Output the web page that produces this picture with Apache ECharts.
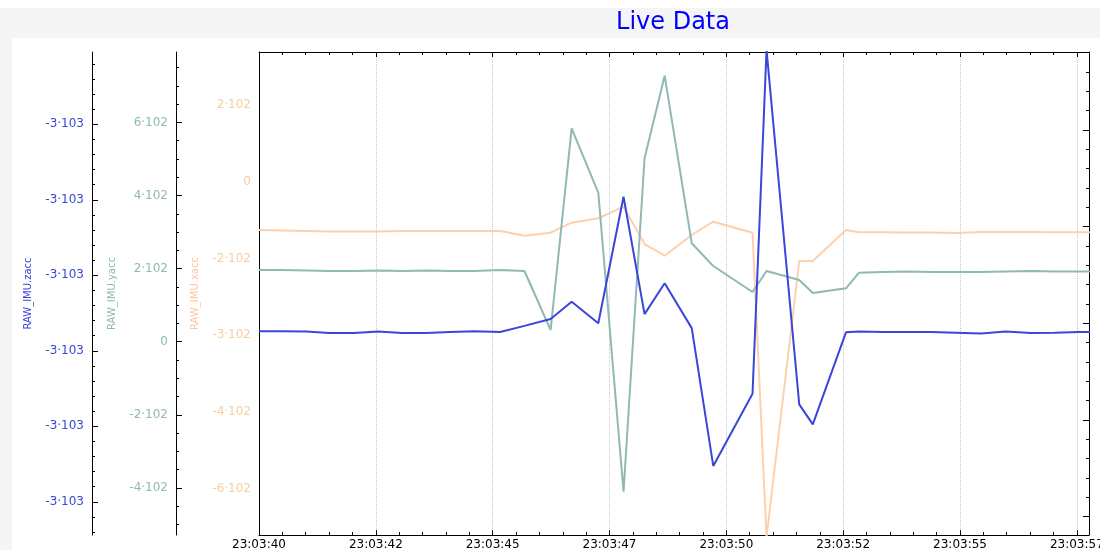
<!DOCTYPE html>
<html><head><meta charset="utf-8">
<script src="https://cdn.jsdelivr.net/npm/echarts@6/dist/echarts.min.js"></script>
<style>html,body{margin:0;padding:0;background:#fff}#c{width:1100px;height:550px}</style>
</head><body><div id="c"></div>
<script>
// time in seconds after 23:03:00
const times = [40.00, 40.49, 41.01, 41.50, 42.04, 42.55, 43.06, 43.58, 44.09, 44.61, 45.16, 45.68,
  46.24, 46.69, 47.26, 47.80, 48.25, 48.68, 49.26, 49.72, 50.56, 50.86, 51.56, 51.85, 52.56, 52.84,
  53.35, 53.86, 54.38, 54.91, 55.45, 55.98, 56.52, 57.03, 57.55, 58.02];
const zacc = [-3014.8, -3014.8, -3014.9, -3015.3, -3015.3, -3014.9, -3015.3, -3015.3, -3015.0, -3014.8, -3015.0, -3013.4,
  -3011.6, -3007.0, -3012.7, -2979.2, -3010.3, -3002.1, -3014.0, -3050.5, -3031.4, -2940.3, -3034.2, -3039.5, -3015.1, -3014.9,
  -3015.0, -3015.0, -3015.0, -3015.2, -3015.4, -3014.9, -3015.3, -3015.2, -3015.0, -3015.0];
const yacc = [196.2, 196.2, 194.8, 193.4, 193.4, 194.8, 193.4, 194.8, 193.4, 193.4, 196.2, 193.4,
  32.0, 583.9, 407.7, -410.4, 501.8, 727.8, 269.2, 207.1, 136.0, 193.4, 168.8, 133.2, 146.1, 188.8,
  190.7, 192.1, 190.7, 190.7, 190.7, 192.1, 193.4, 192.1, 192.1, 192.1];
const xacc = [-125.9, -127.2, -128.6, -129.9, -129.9, -129.9, -128.6, -128.6, -128.6, -128.6, -128.6, -140.8,
  -133.0, -106.9, -95.4, -65.2, -162.5, -193.0, -139.0, -104.3, -133.0, -926.5, -206.8, -206.8, -125.9, -131.9,
  -131.9, -132.5, -132.5, -133.8, -131.2, -131.2, -131.2, -131.9, -131.9, -131.9];

const xTickLabels = ['23:03:40', '23:03:42', '23:03:45', '23:03:47', '23:03:50', '23:03:52', '23:03:55', '23:03:57'];
const zaccTicks = [-2960, -2980, -3000, -3020, -3040, -3060];
const zaccTickLabels = ['-3·103', '-3·103', '-3·103', '-3·103', '-3·103', '-3·103'];
const yaccTicks = [600, 400, 200, 0, -200, -400];
const yaccTickLabels = ['6·102', '4·102', '2·102', '0', '-2·102', '-4·102'];
const xaccTicks = [200, 0, -200, -400, -600, -800];
const xaccTickLabels = ['2·102', '0', '-2·102', '-3·102', '-4·102', '-6·102'];
const rightTicks = [0, 5, 10, 15, 20];

const FONT = 'DejaVu Sans';
const C_Z = '#3a46d8', C_Y = '#90b8b4', C_X = '#fdd0ad';

function minorVals(min, max, start, step, majors) {
  const out = [];
  const k0 = Math.ceil((min - start) / step), k1 = Math.floor((max - start) / step);
  for (let k = k0; k <= k1; k++) {
    const v = +(start + k * step).toFixed(6);
    if (majors.indexOf(v) < 0) out.push(v);
  }
  return out;
}

const ranges = {
  z: [-3068.8, -2940.85],
  y: [-528.9, 792.6],
  x: [-921.3, 338.2],
  r: [-0.95, 24.03]
};

function mainAxis(o) {
  return {
    type: 'value', position: o.pos || 'left', offset: o.offset, min: o.range[0], max: o.range[1],
    name: o.name || '', nameLocation: 'middle', nameGap: 59,
    nameTextStyle: { color: o.nameColor, fontSize: 10, fontFamily: FONT },
    axisLine: { show: true, onZero: false, lineStyle: { color: '#000', width: 1 } },
    axisTick: { show: !!o.tickVals, inside: true, length: 6, customValues: o.tickVals || [], lineStyle: { color: '#000' } },
    axisLabel: o.labels ? {
      show: true, customValues: o.ticks, color: o.labelColor, fontSize: 12, fontFamily: FONT, margin: 8,
      formatter: function (v) { const i = o.ticks.indexOf(v); return i >= 0 ? o.labels[i] : ''; }
    } : { show: false },
    splitLine: { show: false }
  };
}
function minorAxis(o) {
  return {
    type: 'value', position: o.pos || 'left', offset: o.offset, min: o.range[0], max: o.range[1],
    axisLine: { show: false, onZero: false },
    axisTick: { show: true, inside: true, length: 3, customValues: o.vals, lineStyle: { color: '#000' } },
    axisLabel: { show: false }, splitLine: { show: false }
  };
}

const yAxes = [
  mainAxis({ offset: 167, range: ranges.z, name: 'RAW_IMU.zacc', nameColor: C_Z, ticks: zaccTicks, tickVals: zaccTicks, labels: zaccTickLabels, labelColor: C_Z }),
  mainAxis({ offset: 83, range: ranges.y, name: 'RAW_IMU.yacc', nameColor: C_Y, ticks: yaccTicks, tickVals: yaccTicks, labels: yaccTickLabels, labelColor: C_Y }),
  mainAxis({ offset: 0, range: ranges.x, name: 'RAW_IMU.xacc', nameColor: '#fac6a4', ticks: xaccTicks, labels: xaccTickLabels, labelColor: '#f6cf9c' }),
  mainAxis({ pos: 'right', offset: 0, range: ranges.r, tickVals: rightTicks }),
  minorAxis({ offset: 167, range: ranges.z, vals: minorVals(ranges.z[0], ranges.z[1], -2960, 4, zaccTicks) }),
  minorAxis({ offset: 83, range: ranges.y, vals: minorVals(ranges.y[0], ranges.y[1], 0, 50, yaccTicks) }),
  minorAxis({ pos: 'right', offset: 0, range: ranges.r, vals: minorVals(ranges.r[0], ranges.r[1], 0, 1, rightTicks) })
];

function xAxisCfg(pos) {
  return {
    type: 'value', position: pos, min: 40, max: 57.76, interval: 2.5,
    axisLine: { show: true, onZero: false, lineStyle: { color: '#000', width: 1 } },
    axisTick: { show: true, inside: true, length: 5, lineStyle: { color: '#000' } },
    minorTick: { show: true, splitNumber: 5, length: 3, lineStyle: { color: '#000' } },
    axisLabel: pos === 'bottom' ? {
      show: true, color: '#000', fontSize: 12, fontFamily: FONT, margin: 4, showMinLabel: true, hideOverlap: false,
      formatter: function (v) {
        const k = (v - 40) / 2.5, i = Math.round(k);
        return Math.abs(k - i) < 1e-6 ? (xTickLabels[i] || '') : '';
      }
    } : { show: false },
    splitLine: { show: pos === 'bottom', lineStyle: { type: 'dotted', color: '#c4c4c4', width: 1 } }
  };
}

function pairs(vals) { return times.map(function (t, i) { return [t, vals[i]]; }); }

const chart = echarts.init(document.getElementById('c'), null, { renderer: 'canvas' });
chart.setOption({
  animation: false,
  backgroundColor: '#ffffff',
  title: {
    text: 'Live Data', left: 673, top: 11, textAlign: 'center', padding: 0,
    textStyle: { color: '#0000ff', fontSize: 24, fontWeight: 'normal', fontFamily: FONT }
  },
  graphic: [
    { type: 'rect', z: -10, shape: { x: 0, y: 8, width: 1100, height: 30 }, style: { fill: '#f5f5f5' } },
    { type: 'rect', z: -10, shape: { x: 0, y: 38, width: 12, height: 512 }, style: { fill: '#f5f5f5' } }
  ],
  grid: { left: 259, right: 11, top: 52, bottom: 15, containLabel: false, outerBoundsMode: 'none' },
  xAxis: [xAxisCfg('bottom'), xAxisCfg('top')],
  yAxis: yAxes,
  series: [
    { name: 'RAW_IMU.xacc', type: 'line', yAxisIndex: 2, data: pairs(xacc), showSymbol: false, lineStyle: { color: C_X, width: 2 }, itemStyle: { color: C_X }, z: 2 },
    { name: 'RAW_IMU.yacc', type: 'line', yAxisIndex: 1, data: pairs(yacc), showSymbol: false, lineStyle: { color: C_Y, width: 2 }, itemStyle: { color: C_Y }, z: 3 },
    { name: 'RAW_IMU.zacc', type: 'line', yAxisIndex: 0, data: pairs(zacc), showSymbol: false, lineStyle: { color: C_Z, width: 2 }, itemStyle: { color: C_Z }, z: 4 }
  ]
});
</script></body></html>
